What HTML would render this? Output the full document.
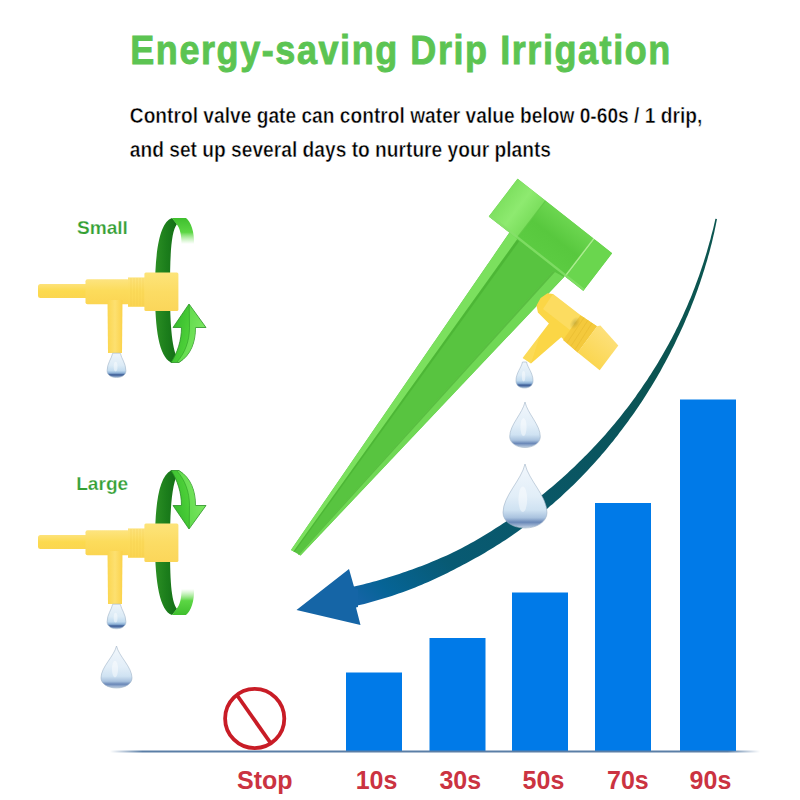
<!DOCTYPE html>
<html><head><meta charset="utf-8">
<style>
html,body{margin:0;padding:0;background:#fff;width:800px;height:800px;overflow:hidden}
svg{display:block}
text{font-family:"Liberation Sans",Arial,sans-serif;font-weight:bold}
</style></head>
<body>
<svg width="800" height="800" viewBox="0 0 800 800">
<defs>
<linearGradient id="base" x1="0" x2="1" y1="0" y2="0">
<stop offset="0" stop-color="#5a7ea6" stop-opacity="0"/>
<stop offset="0.05" stop-color="#5a7ea6" stop-opacity="1"/>
<stop offset="0.95" stop-color="#5a7ea6" stop-opacity="1"/>
<stop offset="1" stop-color="#5a7ea6" stop-opacity="0"/>
</linearGradient>
<linearGradient id="arcg" gradientUnits="userSpaceOnUse" x1="716" y1="218" x2="357" y2="598">
<stop offset="0" stop-color="#0c5650"/>
<stop offset="0.3" stop-color="#0b5452"/>
<stop offset="0.48" stop-color="#0a555f"/>
<stop offset="0.83" stop-color="#085a73"/>
<stop offset="0.95" stop-color="#066496"/>
<stop offset="1" stop-color="#1464a5"/>
</linearGradient>
<linearGradient id="dg" x1="0" x2="1" y1="0" y2="0">
<stop offset="0" stop-color="#2c8f24"/>
<stop offset="0.5" stop-color="#1b7d1b"/>
<stop offset="1" stop-color="#136a16"/>
</linearGradient>
<linearGradient id="lgtop" x1="0" x2="0" y1="0" y2="1">
<stop offset="0" stop-color="#3fbf2e"/>
<stop offset="0.55" stop-color="#5cd644"/>
<stop offset="1" stop-color="#8fe67a" stop-opacity="0"/>
</linearGradient>
<linearGradient id="lgarr" x1="0" x2="1" y1="0" y2="0.4">
<stop offset="0" stop-color="#2fb42a"/>
<stop offset="0.6" stop-color="#4ccf38"/>
<stop offset="1" stop-color="#72e055"/>
</linearGradient>
<linearGradient id="capg" x1="0" x2="0" y1="0" y2="1">
<stop offset="0" stop-color="#fde47a"/>
<stop offset="0.5" stop-color="#fcdc64"/>
<stop offset="1" stop-color="#fbd65a"/>
</linearGradient>
<linearGradient id="dropg" x1="0" x2="0" y1="0" y2="1">
<stop offset="0" stop-color="#eef5fb"/>
<stop offset="0.5" stop-color="#dcebf6"/>
<stop offset="0.72" stop-color="#c2dbef"/>
<stop offset="0.82" stop-color="#8cb0d6"/>
<stop offset="0.89" stop-color="#3a5a94"/>
<stop offset="0.95" stop-color="#6f8cb8"/>
<stop offset="1" stop-color="#b8cade"/>
</linearGradient>
<path id="drop" d="M0 0 C0.1 0.35 0.5 0.6 0.5 0.95 C0.5 1.22 0.27 1.4 0 1.4 C-0.27 1.4 -0.5 1.22 -0.5 0.95 C-0.5 0.6 -0.1 0.35 0 0 Z"/>
<linearGradient id="capgr" gradientUnits="userSpaceOnUse" x1="517.6" y1="178.8" x2="488.8" y2="216.4">
<stop offset="0" stop-color="#7ddf5a"/>
<stop offset="1" stop-color="#6bd24b"/>
</linearGradient>
<linearGradient id="tubeg" x1="0" x2="0" y1="0" y2="1">
<stop offset="0" stop-color="#fde27a"/>
<stop offset="0.5" stop-color="#fcda4e"/>
<stop offset="1" stop-color="#fbd650"/>
</linearGradient>
<linearGradient id="bodyg" x1="0" x2="0" y1="0" y2="1">
<stop offset="0" stop-color="#fde480"/>
<stop offset="0.45" stop-color="#fcdc5c"/>
<stop offset="1" stop-color="#fbd552"/>
</linearGradient>
<linearGradient id="stemg" x1="0" x2="1" y1="0" y2="0">
<stop offset="0" stop-color="#fbd650"/>
<stop offset="0.5" stop-color="#fde070"/>
<stop offset="1" stop-color="#fbd24a"/>
</linearGradient>
<linearGradient id="capv" x1="0" x2="0" y1="1" y2="0">
<stop offset="0" stop-color="#6cd650"/>
<stop offset="0.5" stop-color="#58c83e"/>
<stop offset="1" stop-color="#5ccc42"/>
</linearGradient>
<linearGradient id="capl" x1="0" x2="1" y1="0" y2="0">
<stop offset="0" stop-color="#7ee060"/>
<stop offset="0.5" stop-color="#8eea70"/>
<stop offset="1" stop-color="#7ade5c"/>
</linearGradient>
<radialGradient id="capdark" cx="0.5" cy="0.5" r="0.5">
<stop offset="0" stop-color="#44b42c" stop-opacity="0.7"/>
<stop offset="1" stop-color="#44b42c" stop-opacity="0"/>
</radialGradient>
<linearGradient id="scapg" gradientUnits="userSpaceOnUse" x1="610" y1="334" x2="588" y2="361">
<stop offset="0" stop-color="#fde07a"/>
<stop offset="1" stop-color="#fbd650"/>
</linearGradient>
<radialGradient id="smudge">
<stop offset="0" stop-color="#9a8a30" stop-opacity="0.45"/>
<stop offset="1" stop-color="#9a8a30" stop-opacity="0"/>
</radialGradient>
<linearGradient id="dropg2" x1="0" x2="0" y1="0" y2="1">
<stop offset="0" stop-color="#f2f7fc"/>
<stop offset="0.5" stop-color="#e2eef8"/>
<stop offset="0.72" stop-color="#cfe2f2"/>
<stop offset="0.84" stop-color="#a9c2de"/>
<stop offset="0.91" stop-color="#6a88b8"/>
<stop offset="0.96" stop-color="#9ab0d0"/>
<stop offset="1" stop-color="#c4d3e3"/>
</linearGradient>
</defs>
<rect width="800" height="800" fill="#fff"/>

<!-- title -->
<text transform="translate(130.3 64.3) scale(0.9 1)" x="0" y="0" font-size="40" fill="#5cc452" stroke="#5cc452" stroke-width="0.9" textLength="600" lengthAdjust="spacing">Energy-saving Drip Irrigation</text>
<text x="129.8" y="123" font-size="22.6" fill="#000" stroke="#fff" stroke-width="0.5" textLength="572.5" lengthAdjust="spacingAndGlyphs">Control valve gate can control water value below 0-60s / 1 drip,</text>
<text x="129.8" y="156.6" font-size="22.6" fill="#000" stroke="#fff" stroke-width="0.5" textLength="421.2" lengthAdjust="spacingAndGlyphs">and set up several days to nurture your plants</text>

<!-- bars -->
<g fill="#007ae8">
<rect x="346" y="672.5" width="56" height="78.5"/>
<rect x="429.5" y="638" width="56" height="113"/>
<rect x="512" y="592.5" width="56" height="158.5"/>
<rect x="595" y="503" width="56" height="248"/>
<rect x="680" y="399.5" width="56" height="351.5"/>
</g>
<rect x="110" y="750.5" width="650" height="2" fill="url(#base)"/>

<!-- labels -->
<g font-size="25" fill="#cb3341">
<text x="237" y="789">Stop</text>
<text x="355.7" y="789">10s</text>
<text x="439.4" y="789">30s</text>
<text x="522.6" y="789">50s</text>
<text x="607" y="789">70s</text>
<text x="689.6" y="789">90s</text>
</g>

<!-- stop icon -->
<g fill="none" stroke="#c81c26" stroke-width="3.8">
<circle cx="254.7" cy="718.5" r="29.6"/>
<line x1="236.9" y1="695" x2="270.6" y2="743"/>
</g>

<!-- big arc + arrow -->
<path d="M715.4 218.7 L714.7 222.1 L713.9 225.5 L713.1 228.9 L712.2 232.2 L711.3 235.6 L710.5 238.9 L709.5 242.3 L708.6 245.6 L707.6 248.9 L706.7 252.3 L705.7 255.6 L704.6 258.9 L703.6 262.2 L702.5 265.5 L701.4 268.7 L700.3 272.0 L699.2 275.3 L698.0 278.5 L696.8 281.8 L695.6 285.0 L694.4 288.3 L693.1 291.5 L691.9 294.7 L690.6 297.9 L689.2 301.1 L687.9 304.2 L686.5 307.4 L685.1 310.6 L683.7 313.7 L682.3 316.9 L680.8 320.0 L679.4 323.1 L677.9 326.2 L676.3 329.3 L674.8 332.4 L673.2 335.5 L671.7 338.5 L670.0 341.6 L668.4 344.6 L666.7 347.6 L665.0 350.6 L663.3 353.6 L661.6 356.6 L659.8 359.5 L658.1 362.5 L656.3 365.4 L654.5 368.3 L652.6 371.3 L650.8 374.2 L648.9 377.0 L647.1 379.9 L645.1 382.8 L643.2 385.6 L641.3 388.5 L639.3 391.3 L637.3 394.1 L635.4 396.9 L633.3 399.7 L631.3 402.4 L629.3 405.2 L627.2 407.9 L625.1 410.6 L623.0 413.3 L620.9 416.0 L618.7 418.7 L616.6 421.3 L614.4 424.0 L612.2 426.6 L609.9 429.2 L607.7 431.8 L605.5 434.4 L603.2 436.9 L600.9 439.5 L598.6 442.0 L596.3 444.5 L593.9 447.0 L591.6 449.5 L589.2 451.9 L586.8 454.4 L584.4 456.8 L582.0 459.2 L579.6 461.6 L577.1 464.0 L574.7 466.4 L572.2 468.7 L569.7 471.1 L567.2 473.4 L564.7 475.7 L562.2 477.9 L559.6 480.2 L557.0 482.5 L554.5 484.7 L551.9 486.9 L549.3 489.1 L546.6 491.2 L544.0 493.4 L541.4 495.6 L538.7 497.7 L536.1 499.8 L533.4 501.9 L530.7 504.0 L528.0 506.0 L525.2 508.1 L522.5 510.1 L519.8 512.1 L517.0 514.0 L514.2 516.0 L511.4 517.9 L508.6 519.8 L505.8 521.7 L503.0 523.6 L500.1 525.5 L497.2 527.3 L494.4 529.1 L491.5 531.0 L488.6 532.7 L485.7 534.5 L482.8 536.3 L479.9 538.0 L476.9 539.7 L474.0 541.4 L471.0 543.0 L468.0 544.7 L465.1 546.3 L462.0 547.9 L459.0 549.5 L456.0 551.0 L452.9 552.5 L449.9 553.9 L446.8 555.4 L443.7 556.8 L440.6 558.1 L437.4 559.5 L434.3 560.8 L431.2 562.1 L428.0 563.4 L424.8 564.7 L421.7 565.9 L418.5 567.1 L415.3 568.3 L412.1 569.5 L408.9 570.6 L405.6 571.7 L402.4 572.8 L399.2 573.9 L395.9 574.9 L392.7 576.0 L389.4 577.0 L386.2 578.0 L382.9 579.0 L379.6 580.0 L376.3 580.9 L373.0 581.8 L369.7 582.7 L366.4 583.6 L363.0 584.4 L359.7 585.2 L356.3 586.0 L353.0 586.7 L357.3 605.6 L360.8 604.8 L364.3 603.9 L367.8 603.0 L371.2 602.1 L374.7 601.1 L378.1 600.1 L381.6 599.1 L385.0 598.1 L388.4 597.0 L391.8 595.9 L395.2 594.8 L398.6 593.6 L401.9 592.5 L405.3 591.3 L408.6 590.0 L411.9 588.7 L415.2 587.4 L418.5 586.1 L421.8 584.7 L425.0 583.3 L428.3 581.9 L431.5 580.4 L434.7 579.0 L437.9 577.5 L441.1 576.0 L444.3 574.5 L447.5 572.9 L450.6 571.3 L453.8 569.7 L456.9 568.1 L460.0 566.5 L463.1 564.8 L466.2 563.2 L469.3 561.5 L472.4 559.8 L475.5 558.1 L478.5 556.4 L481.6 554.7 L484.6 552.9 L487.6 551.1 L490.6 549.3 L493.6 547.4 L496.6 545.6 L499.6 543.7 L502.5 541.8 L505.5 539.9 L508.4 537.9 L511.3 536.0 L514.1 534.0 L517.0 531.9 L519.8 529.9 L522.7 527.8 L525.5 525.8 L528.3 523.7 L531.1 521.5 L533.9 519.4 L536.6 517.2 L539.4 515.0 L542.1 512.8 L544.8 510.6 L547.5 508.4 L550.1 506.1 L552.8 503.9 L555.4 501.6 L558.1 499.2 L560.7 496.9 L563.2 494.5 L565.8 492.1 L568.3 489.7 L570.9 487.3 L573.4 484.9 L575.9 482.4 L578.3 480.0 L580.8 477.5 L583.2 475.0 L585.6 472.4 L588.0 469.9 L590.4 467.3 L592.8 464.8 L595.1 462.2 L597.5 459.6 L599.8 456.9 L602.0 454.3 L604.3 451.7 L606.6 449.0 L608.8 446.3 L611.0 443.6 L613.2 440.9 L615.4 438.1 L617.5 435.4 L619.6 432.6 L621.8 429.8 L623.8 427.1 L625.9 424.3 L628.0 421.4 L630.0 418.6 L632.1 415.8 L634.1 412.9 L636.1 410.1 L638.0 407.2 L640.0 404.3 L641.9 401.4 L643.8 398.5 L645.7 395.5 L647.6 392.6 L649.4 389.6 L651.2 386.7 L653.0 383.7 L654.8 380.7 L656.6 377.7 L658.3 374.7 L660.1 371.7 L661.8 368.6 L663.4 365.6 L665.1 362.5 L666.7 359.4 L668.4 356.3 L670.0 353.2 L671.5 350.1 L673.1 347.0 L674.6 343.9 L676.1 340.8 L677.6 337.6 L679.1 334.5 L680.6 331.3 L682.0 328.2 L683.5 325.0 L684.9 321.8 L686.2 318.6 L687.6 315.4 L688.9 312.2 L690.3 309.0 L691.5 305.8 L692.8 302.5 L694.1 299.3 L695.3 296.0 L696.5 292.7 L697.7 289.5 L698.8 286.2 L700.0 282.9 L701.1 279.6 L702.2 276.3 L703.2 273.0 L704.3 269.7 L705.3 266.3 L706.3 263.0 L707.3 259.7 L708.2 256.3 L709.2 253.0 L710.1 249.6 L710.9 246.2 L711.8 242.9 L712.6 239.5 L713.4 236.1 L714.2 232.7 L714.9 229.3 L715.6 225.9 L716.3 222.5 L717.0 219.0Z" fill="url(#arcg)"/>
<path d="M296.5 610 L349 569 L354.5 588.5 L358 589 L358 607 L356 607.5 L360.5 625 Z" fill="#1565a6"/>

<!-- green spike -->
<g>
<path d="M514 226 L291 550 L300.5 555.5 L573.5 267 Z" fill="#58c440"/>
<path d="M514 226 L291 550 L293.5 551.5 L523 231 Z" fill="#7be05e"/>
<path d="M517 240 L293.5 551.5 L294.5 552 L519 241.5 Z" fill="#48b032" opacity="0.7"/>
<path d="M553 271 L298 554.3 L300.5 555.5 L564 277 Z" fill="#70d855"/>
<path d="M553 271 L298 554.3 L299 554.8 L555 272 Z" fill="#4aae34" opacity="0.6"/>
<g transform="matrix(94.5 74.4 28.8 -37.6 488.8 216.4)">
<rect x="0" y="0" width="1" height="1" fill="#5dcc42"/>
<rect x="0" y="0" width="0.3" height="1" fill="url(#capl)"/>
<rect x="0.29" y="0" width="0.012" height="1" fill="#52be38" opacity="0.6"/>
<rect x="0.3" y="0" width="0.5" height="1" fill="url(#capv)"/>
<rect x="0.8" y="0" width="0.014" height="1" fill="#b8f29c" opacity="0.85"/>
<rect x="0.814" y="0" width="0.186" height="1" fill="#6ad64e"/>
<rect x="0" y="0" width="1" height="0.05" fill="#86e06a" opacity="0.8"/>
</g>
</g>

<!-- left valves -->
<g id="ringS">
<path d="M172 218 C160 222 155 250 155 290 C155 330 159 356 171 362.5 L179 361 C172 352 170 325 170 290 C170 255 171 232 177 224 Z" fill="url(#dg)"/>
<path d="M172 218 L186 218 C191 222 194.5 232 194 244 L181.5 244 C181.5 235 180 228 176.5 224 Z" fill="url(#lgtop)"/>
<path d="M189 304 L206 327.5 L195.5 327.5 C195.5 342 191 355 179 362.5 L171 362.5 C177.5 353 181.5 340 181.5 327.5 L173 327.5 Z" fill="url(#lgarr)" stroke="#2a8f24" stroke-width="0.8" stroke-linejoin="round"/>
<path d="M189.5 305 L205 327 L195.5 327 C195.5 342 191 355 179 362 L177 362 C185 353 189.5 341 189.5 327.5 Z" fill="#8af070" opacity="0.45"/>
<path d="M189.2 305 L189.5 327.5 C189.5 341 185 353 177 362" fill="none" stroke="#2a9a24" stroke-width="0.8" opacity="0.7"/>
</g>
<use href="#ringS" transform="translate(0 833) scale(1 -1)"/>

<g id="valveS">
<rect x="38" y="284" width="52" height="14" rx="2.5" fill="url(#tubeg)"/>
<rect x="85.5" y="279.2" width="44" height="25" rx="2" fill="url(#bodyg)"/>
<path d="M107.5 300 L122.5 300 L122 353 L108 353 Z" fill="url(#stemg)"/>
<rect x="128" y="277.4" width="17" height="29.4" fill="url(#bodyg)"/>
<g stroke="#f0c848" stroke-width="0.7" opacity="0.45">
<line x1="131" y1="278" x2="131" y2="306"/><line x1="134" y1="278" x2="134" y2="306"/><line x1="137" y1="278" x2="137" y2="306"/><line x1="140" y1="278" x2="140" y2="306"/><line x1="143" y1="278" x2="143" y2="306"/>
</g>
<rect x="144.4" y="272.4" width="34" height="38.6" rx="1.5" fill="url(#capg)"/>
</g>
<use href="#valveS" transform="translate(0 251)"/>

<!-- spike valve -->
<g>
<path d="M536.5 305.6 L540.6 298 L547.5 293.3 L553 294 L580.5 315.2 L597 326.2 L577.7 352.4 L561.2 337.2 L531 363.4 L522.7 357.9 L548.9 323.5 L537.9 312.5 Z" fill="#fbd646"/>
<path d="M553 294 L580.5 315.2 L570 330 L543 309 Z" fill="#fde27a" opacity="0.5"/>
<path d="M580.5 315.2 L597 326.2 L577.7 352.4 L563 340 Z" fill="#f4c93c"/>
<g stroke="#e8bb30" stroke-width="0.8" opacity="0.8">
<line x1="584" y1="317.5" x2="567" y2="343"/><line x1="588" y1="320.2" x2="571" y2="346"/><line x1="592" y1="323" x2="575" y2="349.5"/>
</g>
<ellipse cx="575" cy="323" rx="7" ry="4.5" transform="rotate(-55 575 323)" fill="url(#smudge)"/>
<path d="M600.4 325.6 L618.3 345.5 L599.7 370.2 L577.7 352.4 L597 326.2 Z" fill="url(#scapg)"/>
<path d="M548.9 323.5 L540 335 L531 363.4 L522.7 357.9 Z" fill="#fde070" opacity="0.4"/>
</g>

<!-- drops -->
<path d="M112.7 353.2 L120.3 353.2 C121.4 358.5 125.9 363.4 125.9 370.7 C125.9 375.1 121.8 377.5 116.5 377.5 C111.2 377.5 107.1 375.1 107.1 370.7 C107.1 363.4 111.6 358.5 112.7 353.2Z" fill="url(#dropg)" stroke="#9fb3c8" stroke-width="0.6"/>
<ellipse cx="115.6" cy="366.6" rx="1.9" ry="4.9" fill="#ffffff" opacity="0.45"/>
<path d="M112.7 604.2 L120.3 604.2 C121.4 609.6 125.9 614.5 125.9 621.8 C125.9 626.2 121.8 628.7 116.5 628.7 C111.2 628.7 107.1 626.2 107.1 621.8 C107.1 614.5 111.6 609.6 112.7 604.2Z" fill="url(#dropg)" stroke="#9fb3c8" stroke-width="0.6"/>
<ellipse cx="115.6" cy="617.7" rx="1.9" ry="4.9" fill="#ffffff" opacity="0.45"/>
<path d="M116.5 646.0 C119.0 656.5 132.0 667.0 132.0 677.9 C132.0 683.8 125.2 688.0 116.5 688.0 C107.8 688.0 101.0 683.8 101.0 677.9 C101.0 667.0 114.0 656.5 116.5 646.0Z" fill="url(#dropg2)" stroke="#9fb3c8" stroke-width="0.6"/>
<ellipse cx="115.0" cy="669.1" rx="3.1" ry="8.4" fill="#ffffff" opacity="0.45"/>
<path d="M522.5 362.0 L526.5 362.0 C527.6 367.7 533.0 372.9 533.0 380.7 C533.0 385.4 529.3 388.0 524.5 388.0 C519.7 388.0 516.0 385.4 516.0 380.7 C516.0 372.9 521.4 367.7 522.5 362.0Z" fill="url(#dropg)" stroke="#9fb3c8" stroke-width="0.6"/>
<ellipse cx="523.6" cy="376.3" rx="1.7" ry="5.2" fill="#ffffff" opacity="0.45"/>
<path d="M525.0 402.0 C527.4 413.4 540.3 424.8 540.3 436.6 C540.3 442.9 533.6 447.5 525.0 447.5 C516.4 447.5 509.7 442.9 509.7 436.6 C509.7 424.8 522.6 413.4 525.0 402.0Z" fill="url(#dropg2)" stroke="#9fb3c8" stroke-width="0.6"/>
<ellipse cx="523.5" cy="427.0" rx="3.1" ry="9.1" fill="#ffffff" opacity="0.45"/>
<path d="M525.0 464.0 C528.5 480.0 547.0 496.0 547.0 512.6 C547.0 521.6 537.3 528.0 525.0 528.0 C512.7 528.0 503.0 521.6 503.0 512.6 C503.0 496.0 521.5 480.0 525.0 464.0Z" fill="url(#dropg2)" stroke="#9fb3c8" stroke-width="0.6"/>
<ellipse cx="522.8" cy="499.2" rx="4.4" ry="12.8" fill="#ffffff" opacity="0.45"/>

<!-- Small / Large -->
<text x="76.9" y="233.6" font-size="18.6" fill="#34a034" stroke="#fff" stroke-width="0.25" textLength="51" lengthAdjust="spacingAndGlyphs">Small</text>
<text x="76.2" y="489.8" font-size="18.6" fill="#34a034" stroke="#fff" stroke-width="0.25" textLength="52" lengthAdjust="spacingAndGlyphs">Large</text>

</svg>
</body></html>
